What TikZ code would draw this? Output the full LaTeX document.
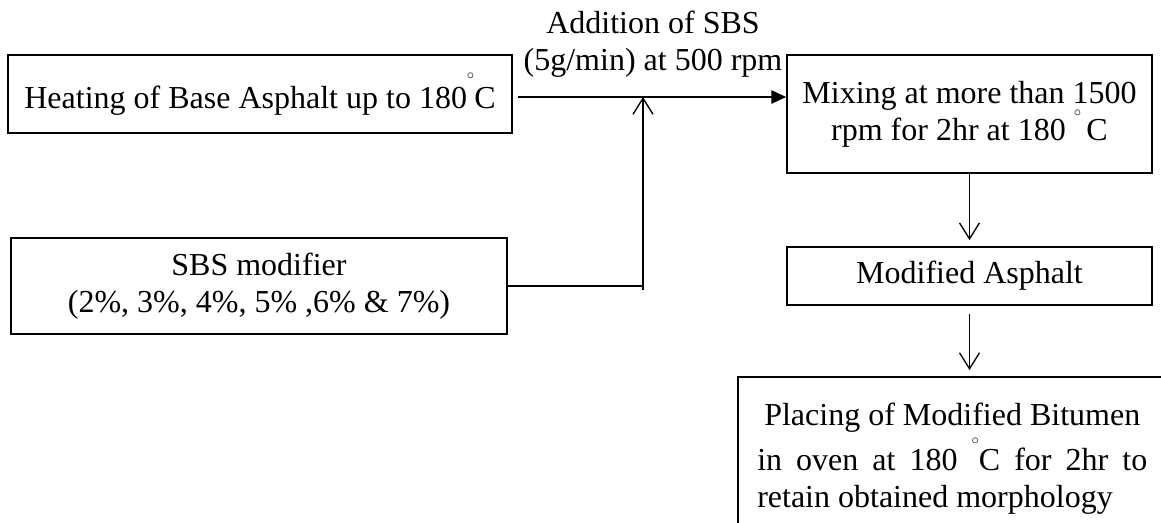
\documentclass[tikz,border=0pt]{standalone}
\usepackage{fontspec}
\setmainfont{Liberation Serif}
\usetikzlibrary{arrows.meta}
\newcommand\dgraw[1]{\raisebox{#1}{\fontsize{11}{11}\selectfont$\circ$}}
\newcommand\dg[1][0.9em]{\smash{\dgraw{#1}}}
\begin{document}
\begin{tikzpicture}[x=0.75pt,y=-0.75pt,
  box/.style={draw, line width=1.3pt, inner sep=0pt, align=center, font=\fontsize{24}{27.5}\selectfont},
  lbl/.style={inner sep=0pt, align=center, font=\fontsize{24}{27.5}\selectfont},
  txt/.style={inner sep=0pt, font=\fontsize{24}{27.5}\selectfont},
  conn/.style={line width=1pt},
  vtip/.style={-{Straight Barb[length=12pt,width=15pt]}},
  ftip/.style={-{Triangle[length=11pt,width=10pt]}}]
\useasboundingbox (0,0) rectangle (1161,522);
\node[box, minimum width=378pt, minimum height=58.5pt] (heat) at (260,94) {Heating of Base Asphalt up to 180\dgraw{0.9em}C};
\node[box, minimum width=372pt, minimum height=72pt] (sbs) at (259,286) {SBS modifier\\(2\%, 3\%, 4\%, 5\% ,6\% \& 7\%)};
\node[box, minimum width=273.75pt, minimum height=88.5pt] (mix) at (969.5,114) {Mixing at more than 1500\\rpm for 2hr at 180 \dg[0.72em]\,C};
\node[box, minimum width=273.75pt, minimum height=43.5pt] (asph) at (969.5,276) {Modified Asphalt};
\begin{scope}
\clip (0,0) rectangle (1161,522);
\node[draw, line width=1.3pt, anchor=north west, minimum width=330pt, minimum height=120pt] (place) at (737,376) {};
\end{scope}
\node[txt, anchor=base west] (p1) at (757,425) {\makebox[292.5pt][c]{Placing of Modified Bitumen}};
\node[txt, anchor=base west] (p2) at (757,470) {\makebox[292.5pt][s]{in oven at 180 \dg[0.8em]C for 2hr to}};
\node[txt, anchor=base west] (p3) at (757,507) {retain obtained morphology};
\node[lbl] (add) at (653,44) {Addition of SBS\\(5g/min) at 500 rpm};
\coordinate (j) at (643,97);
\draw[conn, ftip, shorten <=3.75pt] ([yshift=-2.25pt]heat.east) -- ([yshift=-2.25pt]heat.east -| mix.west);
\draw[conn] (sbs.east) -- (sbs.east -| j);
\draw[conn, vtip] ([yshift=-3pt]sbs.east -| j) -- (j);
\draw[conn, vtip, shorten >=4.5pt] (mix.south) -- (asph.north);
\draw[conn, vtip, shorten <=6pt, shorten >=4.5pt] (asph.south) -- (asph.south |- place.north);
\end{tikzpicture}
\end{document}
